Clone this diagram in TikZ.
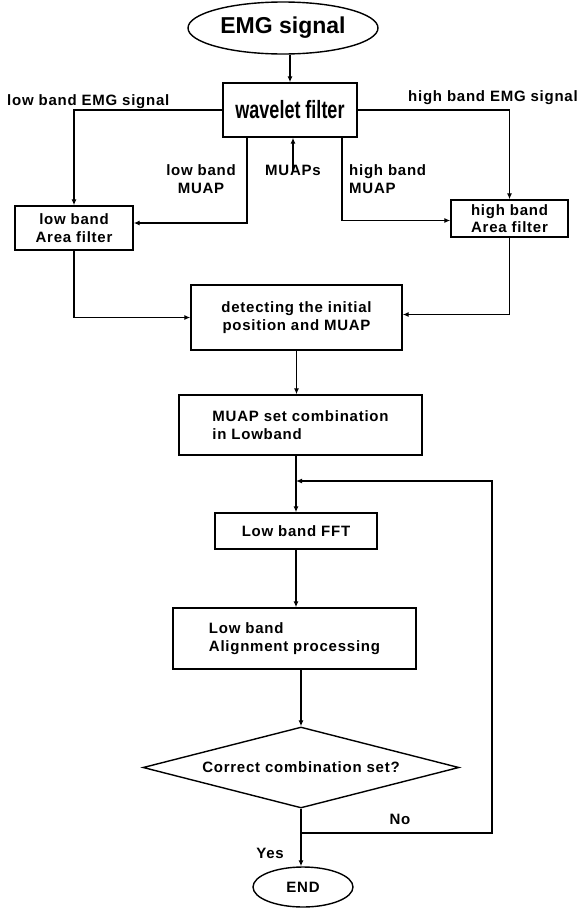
\documentclass[tikz,border=0pt]{standalone}
\usepackage{fontspec}
\setmainfont{Liberation Sans}
\newfontfamily\lblfont{Liberation Sans}[LetterSpace=5]
\newfontfamily\narrowfont{Liberation Sans}[FakeStretch=0.72]
\usetikzlibrary{shapes, arrows.meta}
\tikzset{
  flowbox/.style={draw, line width=1.4pt, rectangle, inner sep=0pt, align=center, font=\lblfont\bfseries\fontsize{15}{17.5}\selectfont},
  lbl/.style={inner sep=0pt, font=\lblfont\bfseries\fontsize{15}{17.5}\selectfont},
  arr/.style={line width=1.4pt, -{Latex[length=6pt, width=5pt]}}
}

\begin{document}
\begin{tikzpicture}[x=1pt, y=-1pt]
  \useasboundingbox (0,0) rectangle (581,908);

  % Input and wavelet stage
  \node[draw, ellipse, line width=1.4pt, inner sep=0pt, minimum width=190pt, minimum height=52pt, font=\bfseries\fontsize{23}{26}\selectfont] (emg) at (283, 28) {EMG signal};
  \node[flowbox, minimum width=134pt, minimum height=54pt, font=\narrowfont\bfseries\fontsize{25}{28}\selectfont] (wf) at (290, 110) {wavelet filter};

  % Area filters
  \node[flowbox, minimum width=118pt, minimum height=44pt] (lowaf) at (74, 228) {low band\\Area filter};
  \node[flowbox, minimum width=117pt, minimum height=37pt] (highaf) at (509.5, 218.5) {high band\\Area filter};

  % Main chain
  \node[flowbox, minimum width=211pt, minimum height=65pt] (detect) at (296.5, 317.5) {detecting the initial\\position and MUAP};
  \node[flowbox, align=left, minimum width=243pt, minimum height=60pt] (muapset) at (300.5, 425) {MUAP set combination\\in Lowband};
  \node[flowbox, minimum width=162pt, minimum height=36pt] (fft) at (296, 531) {Low band FFT};
  \node[flowbox, align=left, minimum width=243pt, minimum height=61pt] (alignp) at (294.5, 638.5) {Low band\\Alignment processing};
  \node[draw, diamond, line width=1.4pt, inner sep=0pt, aspect=3.9, minimum width=316pt, minimum height=81pt, font=\lblfont\bfseries\fontsize{15}{17.5}\selectfont] (check) at (301, 767.5) {Correct combination set?};
  \node[draw, ellipse, line width=1.4pt, inner sep=0pt, minimum width=100pt, minimum height=40pt, font=\lblfont\bfseries\fontsize{15}{17.5}\selectfont] (endn) at (303, 887) {END};

  % Labels
  \node[lbl, anchor=base west] (lowsig) at (7, 105) {low band EMG signal};
  \node[lbl, anchor=base west] (highsig) at (408, 101) {high band EMG signal};
  \node[lbl, align=center] (lowmuap) at (201, 179) {low band\\MUAP};
  \node[lbl] (muaps) at (293, 170) {MUAPs};
  \node[lbl, align=left, anchor=west] (highmuap) at (349, 179) {high band\\MUAP};
  \node[lbl] (nolbl) at (400, 819) {No};
  \node[lbl] (yeslbl) at (270, 853) {Yes};

  \coordinate (nobr) at (301, 833);
  \coordinate (loopr) at (492, 833);
  \coordinate (loopin) at (296, 481);

  % Connectors
  \draw[arr] (emg.south -| wf.north) -- (wf.north);
  \draw[arr] (wf.west) -| (lowaf.north);
  \draw[arr] (wf.east) -| (highaf.north);
  \draw[arr] ([xshift=-43pt]wf.south) |- ([yshift=5pt]lowaf.east);
  \draw[arr] ([xshift=52pt]wf.south) |- ([yshift=-2pt]highaf.west);
  \draw[arr] ([yshift=-7pt]muaps.north) -- (muaps.north |- wf.south);
  \draw[arr] (lowaf.south) |- (detect.west);
  \draw[arr] (highaf.south) |- ([yshift=3pt]detect.east);
  \draw[arr] (detect.south) -- (detect.south |- muapset.north);
  \draw[arr] (fft.north |- muapset.south) -- (fft.north);
  \draw[arr] (fft.south) -- (fft.south |- alignp.north);
  \draw[arr] (check.north |- alignp.south) -- (check.north);
  \draw[arr] (check.south) -- (check.south |- endn.north);
  \draw[arr] (nobr) -- (loopr) |- (loopin);
\end{tikzpicture}
\end{document}
